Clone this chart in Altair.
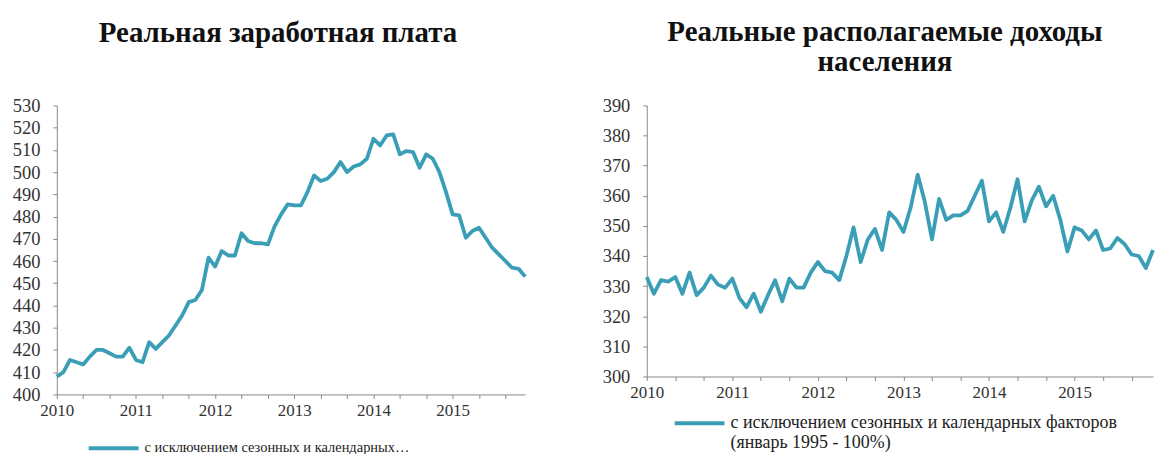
import altair as alt
import pandas as pd

months = list(range(72))  # Jan 2010 .. Dec 2015
first_year = 2010

wage = [408, 410, 415.5, 414.5, 413.5, 417, 420, 420, 418.5, 417, 417, 421,
        415.5, 414.5, 423.5, 420.5, 423.5, 426.5, 431, 435.5, 441.5, 442.5, 447, 461.5,
        457.5, 464.5, 462.5, 462.5, 472.5, 469, 468, 468, 467.5, 475.5, 481, 485.5,
        485, 485, 491, 498.5, 496, 497, 500, 504.5, 500, 502.5, 503.5, 506,
        515, 512, 516.5, 517, 508, 509.5, 509, 502, 508, 506, 500, 491,
        481, 480.5, 470.5, 473.5, 475, 470.5, 466, 463, 460, 457, 456.5, 453]

income = [333, 327.5, 332, 331.5, 333, 327.5, 334.5, 327, 329.5, 333.5, 330.5, 329.5,
          332.5, 326, 323, 327.5, 321.5, 327, 332, 325, 332.5, 329.5, 329.5, 334.5,
          338, 335, 334.5, 332, 340, 349.5, 338, 345.5, 349, 342, 354.5, 352,
          348, 356, 367, 358, 345.5, 359, 352, 353.5, 353.5, 355, 360, 365,
          351.5, 354.5, 348, 356, 365.5, 351.5, 358.5, 363, 356.5, 360, 352, 341.5,
          349.5, 348.5, 345.5, 348.5, 342, 342.5, 346, 344, 340.5, 340, 336, 342]

series_name = "с исключением сезонных и календарных факторов (январь 1995 - 100%)"
title_left = "Реальная заработная плата"
title_right = ["Реальные располагаемые доходы", "населения"]
wage_ticks = list(range(400, 531, 10))
income_ticks = list(range(300, 391, 10))
month_ticks = list(range(0, 72, 4))

LINE = "#3A9FB6"
FONT = "Liberation Serif"

df_w = pd.DataFrame({"m": months, "v": wage, "s": series_name})
df_i = pd.DataFrame({"m": months, "v": income, "s": series_name})

year_expr = f"datum.value % 12 == 0 ? '' + ({first_year} + datum.value / 12) : ''"


def x_axis():
    return alt.Axis(values=month_ticks, labelExpr=year_expr, grid=False, title=None,
                    labelFlush=False, labelOverlap=False, domainColor="#8a8a8a",
                    tickColor="#8a8a8a", tickSize=4, labelFont=FONT, labelFontSize=17,
                    labelColor="#333333", labelPadding=4)


def y_axis(vals):
    return alt.Axis(values=vals, grid=False, title=None, domainColor="#8a8a8a",
                    tickColor="#8a8a8a", tickSize=4, labelFont=FONT, labelFontSize=18.5,
                    labelColor="#333333", labelPadding=13, minExtent=45, maxExtent=45,
                    labelFlush=False)


left = alt.Chart(df_w).mark_line(strokeWidth=3.8, strokeJoin="round").encode(
    x=alt.X("m:Q", scale=alt.Scale(domain=[0, 71], nice=False, zero=False), axis=x_axis()),
    y=alt.Y("v:Q", scale=alt.Scale(domain=[400, 530], nice=False, zero=False), axis=y_axis(wage_ticks)),
    color=alt.Color("s:N", scale=alt.Scale(range=[LINE]),
                    legend=alt.Legend(title=None, orient="none", legendX=30, legendY=317,
                                      symbolType="stroke", symbolSize=2500, symbolStrokeWidth=4,
                                      labelFont=FONT, labelFontSize=14.5, labelColor="#222222",
                                      labelLimit=268, padding=0)),
).properties(
    width=470, height=290,
    title=alt.TitleParams(title_left, font=FONT, fontSize=29, fontWeight="bold",
                          anchor="middle", dx=-13, offset=49, color="#111111"),
)

right = alt.Chart(df_i).mark_line(strokeWidth=3.8, strokeJoin="round").encode(
    x=alt.X("m:Q", scale=alt.Scale(domain=[0, 71], nice=False, zero=False), axis=x_axis()),
    y=alt.Y("v:Q", scale=alt.Scale(domain=[300, 390], nice=False, zero=False), axis=y_axis(income_ticks)),
    color=alt.Color("s:N", scale=alt.Scale(range=[LINE]),
                    legend=alt.Legend(title=None, orient="none", legendX=26, legendY=292,
                                      symbolType="stroke", symbolSize=2500, symbolStrokeWidth=4,
                                      labelFont=FONT, labelFontSize=18, labelColor="#222222",
                                      labelLimit=600, padding=0,
                                      labelExpr="split(replace(datum.label, ' (', '|('), '|')")),
).properties(
    width=508, height=272,
    title=alt.TitleParams(title_right, font=FONT, fontSize=29, fontWeight="bold",
                          anchor="middle", dx=-15, offset=20, lineHeight=30, color="#111111"),
)

chart = alt.hconcat(left, right, spacing=75).resolve_scale(color="independent").resolve_legend(
    color="independent"
).properties(
    padding={"left": 12, "right": 0, "top": 17, "bottom": 0},
).configure_view(stroke=None)

chart.save("out.html", embed_options={"renderer": "svg", "actions": False})
